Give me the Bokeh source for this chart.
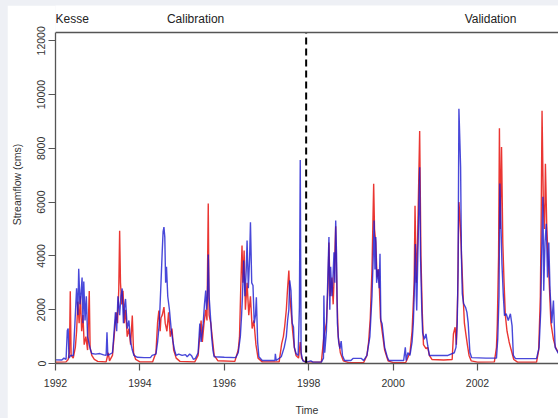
from bokeh.plotting import figure
from bokeh.models import FixedTicker, Range1d, Span
from bokeh.layouts import column
from bokeh.core.properties import value
from bokeh.embed import file_html
from bokeh.resources import INLINE

# Observed streamflow (red)
obs_t = [1992.00, 1992.25, 1992.30, 1992.33, 1992.35, 1992.37, 1992.42, 1992.47, 1992.50, 1992.53,
         1992.56, 1992.59, 1992.62, 1992.65, 1992.68, 1992.72, 1992.76, 1992.80, 1992.82, 1992.86,
         1992.92, 1993.00, 1993.20, 1993.25, 1993.28, 1993.35, 1993.40, 1993.44, 1993.47, 1993.50,
         1993.52, 1993.54, 1993.57, 1993.60, 1993.63, 1993.66, 1993.70, 1993.74, 1993.78, 1993.82,
         1993.85, 1993.90, 1994.00, 1994.30, 1994.38, 1994.42, 1994.45, 1994.48, 1994.50, 1994.53,
         1994.57, 1994.60, 1994.64, 1994.68, 1994.72, 1994.76, 1994.80, 1994.86, 1994.95, 1995.30,
         1995.38, 1995.45, 1995.48, 1995.52, 1995.56, 1995.59, 1995.62, 1995.64, 1995.68, 1995.72,
         1995.76, 1995.85, 1996.25, 1996.33, 1996.36, 1996.39, 1996.42, 1996.44, 1996.47, 1996.50,
         1996.54, 1996.58, 1996.62, 1996.66, 1996.70, 1996.75, 1996.80, 1996.90, 1997.30, 1997.36,
         1997.40, 1997.43, 1997.47, 1997.50, 1997.53, 1997.55, 1997.58, 1997.62, 1997.66, 1997.70,
         1997.76, 1997.80, 1997.83, 1997.90, 1998.30, 1998.36, 1998.42, 1998.46, 1998.48, 1998.51,
         1998.55, 1998.58, 1998.61, 1998.64, 1998.67, 1998.70, 1998.75, 1998.82, 1998.95, 1999.30,
         1999.38, 1999.42, 1999.46, 1999.50, 1999.54, 1999.56, 1999.59, 1999.62, 1999.66, 1999.70,
         1999.74, 1999.80, 1999.88, 2000.00, 2000.30, 2000.40, 2000.45, 2000.50, 2000.52, 2000.55,
         2000.58, 2000.63, 2000.66, 2000.69, 2000.72, 2000.78, 2000.82, 2000.86, 2000.92, 2001.20,
         2001.40, 2001.43, 2001.47, 2001.50, 2001.53, 2001.56, 2001.58, 2001.60, 2001.63, 2001.66,
         2001.69, 2001.72, 2001.76, 2001.80, 2001.85, 2002.00, 2002.40, 2002.45, 2002.47, 2002.50,
         2002.52, 2002.54, 2002.57, 2002.60, 2002.63, 2002.66, 2002.70, 2002.75, 2002.80, 2002.86,
         2002.95, 2003.40, 2003.45, 2003.49, 2003.51, 2003.53, 2003.56, 2003.59, 2003.61, 2003.64,
         2003.67, 2003.70, 2003.74, 2003.80, 2003.85, 2003.92]
obs_q = [50, 60, 150, 400, 2690, 300, 200, 600, 1200, 2300,
         1500, 2500, 1200, 1800, 700, 1000, 500, 2700, 600, 300,
         150, 80, 60, 400, 100, 300, 1200, 1900, 1500, 2800,
         4940, 3000, 2200, 2700, 1500, 2000, 1000, 1300, 700, 1780,
         400, 150, 60, 60, 400, 1540, 1970, 1200, 1700, 1800,
         2100, 1500, 1200, 1900, 1000, 1300, 500, 200, 80, 60,
         300, 1600, 800, 1500, 2000, 1600, 5950, 1800, 1500, 900,
         300, 100, 80, 500, 980, 2800, 4390, 3000, 4200, 2000,
         3000, 1800, 2500, 1300, 1600, 700, 200, 60, 60, 740,
         1000, 1360, 2000, 2800, 3460, 2600, 2000, 1200, 600, 300,
         200, 800, 200, 60, 50, 1000, 1500, 3000, 4500, 2500,
         3200, 2200, 3500, 5100, 2500, 1000, 400, 100, 30, 30,
         300, 800, 1700, 3500, 6680, 5000, 4500, 3200, 3500, 1700,
         1200, 500, 100, 30, 40, 400, 1200, 3000, 5870, 3000,
         4500, 8650, 4000, 2000, 700, 550, 600, 300, 150, 130,
         150, 1100, 1350, 700, 2500, 6000, 5570, 4880, 3700, 2500,
         1500, 1150, 700, 300, 100, 50, 60, 600, 1480, 4000,
         8750, 5000, 8050, 4500, 3000, 1800, 1200, 800, 500, 150,
         50, 50, 500, 2500, 5500, 9400, 6000, 5000, 7430, 5200,
         4000, 3000, 1500, 900, 600, 400]

# Simulated streamflow (blue)
sim_t = [1992.00, 1992.15, 1992.20, 1992.25, 1992.28, 1992.30, 1992.32, 1992.36, 1992.42, 1992.46,
         1992.50, 1992.53, 1992.55, 1992.58, 1992.60, 1992.63, 1992.65, 1992.67, 1992.70, 1992.73,
         1992.76, 1992.80, 1992.83, 1992.86, 1992.95, 1993.05, 1993.14, 1993.20, 1993.22, 1993.24,
         1993.35, 1993.38, 1993.42, 1993.45, 1993.48, 1993.52, 1993.55, 1993.58, 1993.61, 1993.64,
         1993.66, 1993.70, 1993.74, 1993.78, 1993.82, 1993.86, 1993.94, 1994.10, 1994.25, 1994.29,
         1994.38, 1994.42, 1994.46, 1994.50, 1994.53, 1994.55, 1994.57, 1994.59, 1994.61, 1994.63,
         1994.66, 1994.70, 1994.74, 1994.78, 1994.82, 1994.86, 1994.92, 1995.00, 1995.08, 1995.12,
         1995.18, 1995.22, 1995.27, 1995.32, 1995.38, 1995.42, 1995.45, 1995.50, 1995.53, 1995.56,
         1995.58, 1995.60, 1995.62, 1995.64, 1995.67, 1995.70, 1995.73, 1995.76, 1996.00, 1996.27,
         1996.33, 1996.38, 1996.41, 1996.43, 1996.46, 1996.49, 1996.52, 1996.54, 1996.57, 1996.60,
         1996.62, 1996.65, 1996.68, 1996.71, 1996.74, 1996.76, 1996.79, 1996.82, 1996.90, 1997.20,
         1997.21, 1997.23, 1997.35, 1997.42, 1997.47, 1997.50, 1997.53, 1997.55, 1997.58, 1997.61,
         1997.64, 1997.66, 1997.70, 1997.75, 1997.78, 1997.80, 1997.82, 1997.86, 1997.95, 1998.05,
         1998.10, 1998.30, 1998.35, 1998.36, 1998.38, 1998.42, 1998.45, 1998.48, 1998.50, 1998.52,
         1998.55, 1998.57, 1998.60, 1998.62, 1998.64, 1998.66, 1998.68, 1998.71, 1998.74, 1998.77,
         1998.80, 1998.85, 1999.00, 1999.05, 1999.25, 1999.30, 1999.38, 1999.45, 1999.50, 1999.53,
         1999.55, 1999.57, 1999.59, 1999.61, 1999.64, 1999.67, 1999.69, 1999.71, 1999.74, 1999.77,
         1999.80, 1999.86, 1999.90, 2000.25, 2000.29, 2000.31, 2000.35, 2000.40, 2000.45, 2000.48,
         2000.50, 2000.53, 2000.55, 2000.56, 2000.58, 2000.60, 2000.63, 2000.65, 2000.68, 2000.70,
         2000.74, 2000.78, 2000.82, 2000.86, 2001.00, 2001.30, 2001.45, 2001.49, 2001.52, 2001.54,
         2001.56, 2001.58, 2001.60, 2001.62, 2001.64, 2001.67, 2001.72, 2001.75, 2001.78, 2001.82,
         2001.86, 2002.20, 2002.45, 2002.48, 2002.51, 2002.53, 2002.56, 2002.58, 2002.61, 2002.64,
         2002.68, 2002.73, 2002.78, 2002.82, 2002.85, 2002.90, 2003.40, 2003.46, 2003.50, 2003.52,
         2003.55, 2003.57, 2003.60, 2003.63, 2003.66, 2003.69, 2003.72, 2003.76, 2003.80, 2003.84,
         2003.92]
sim_q = [135, 130, 200, 150, 1230, 1300, 200, 300, 300, 1500,
         2800, 1800, 3520, 2200, 2500, 3200, 1500, 3050, 1600, 2500,
         1000, 700, 500, 370, 350, 370, 320, 300, 1160, 300,
         400, 1000, 1900, 1200, 2500, 1800, 2500, 2790, 1500, 2200,
         2400, 1300, 1600, 800, 500, 300, 230, 220, 220, 300,
         350, 800, 1500, 3000, 4200, 4900, 5070, 4700, 3000, 3600,
         2500, 2000, 1300, 850, 500, 300, 350, 300, 330, 250,
         350, 300, 150, 200, 400, 1490, 800, 1500, 2200, 2710,
         2000, 2400, 4050, 2500, 1800, 1000, 500, 250, 230, 220,
         400, 1000, 1800, 2500, 3830, 2500, 3500, 4570, 2800, 3900,
         5250, 3000, 2900, 1500, 1800, 2460, 800, 250, 110, 110,
         360, 110, 250, 600, 1000, 1600, 2000, 3090, 2710, 1500,
         1360, 600, 370, 300, 2100, 7570, 400, 100, 50, 100,
         50, 50, 200, 2530, 400, 1200, 3000, 4700, 2000, 3600,
         2500, 3000, 4140, 3000, 5320, 4080, 1500, 800, 550, 830,
         300, 110, 110, 190, 190, 110, 300, 1000, 2500, 4000,
         5320, 3500, 4700, 3000, 3500, 2800, 4080, 1600, 1480, 1040,
         600, 250, 110, 110, 600, 110, 400, 300, 800, 1500,
         2500, 4440, 2500, 1970, 3500, 5000, 7300, 4000, 2000, 1150,
         900, 1100, 670, 300, 300, 300, 400, 600, 1500, 3460,
         9470, 8410, 7300, 3950, 2600, 2230, 2080, 1900, 1500, 420,
         220, 200, 200, 900, 2500, 6690, 4940, 3700, 2600, 1780,
         1850, 1600, 1850, 1400, 300, 180, 180, 600, 2000, 4000,
         6200, 2710, 4500, 5200, 3200, 4500, 2700, 1500, 2340, 600,
         370]

x_ticks = [1992, 1994, 1996, 1998, 2000, 2002]
y_ticks = [0, 2000, 4000, 6000, 8000, 10000, 12000]
split_year = 1997.94
panel_left_text = ["Kesse"]
panel_left_x = [1992.0]
panel_center_text = ["Calibration", "Validation"]
panel_center_x = [1995.32, 2002.31]

FONT = "Liberation Sans"
X_START, X_END = 1992.0, 2003.92
Y_TOP = 12310                      # top of the plot box
FRAME_H, BOX_H = 358, 331          # frame height vs. box height in pixels
Y_EXT = Y_TOP * FRAME_H / BOX_H    # range extended above box for the panel texts
LABEL_Y = Y_TOP * 345.0 / BOX_H

p = figure(width=551, height=413, output_backend="svg", toolbar_location=None,
           x_range=Range1d(X_START, X_END), y_range=Range1d(0, Y_EXT),
           min_border_left=48, min_border_right=0, min_border_top=0, min_border_bottom=55,
           margin=(5, 0, 0, 7),
           background_fill_color="white", border_fill_color="white",
           x_axis_label="Time", y_axis_label="Streamflow (cms)")
p.outline_line_color = None
p.xgrid.visible = False
p.ygrid.visible = False

p.line(obs_t, obs_q, line_color="#e8201c", line_width=1.4, line_alpha=0.9)
p.line(sim_t, sim_q, line_color="#1a1ad0", line_width=1.4, line_alpha=0.8)

# top edge of the box and the calibration/validation split
p.add_layout(Span(location=Y_TOP, dimension="width", line_color="#555555", line_width=1.3))
p.segment(x0=[split_year], y0=[0], x1=[split_year], y1=[Y_TOP], line_color="black",
          line_width=2, line_dash="7 4")

p.text(x=panel_left_x, y=[LABEL_Y], text=panel_left_text, text_align="left",
       text_baseline="middle", text_font=value(FONT), text_font_size="12px",
       text_color="#222222")
p.text(x=panel_center_x, y=[LABEL_Y] * 2, text=panel_center_text, text_align="center",
       text_baseline="middle", text_font=value(FONT), text_font_size="12px",
       text_color="#222222")

for ax in (p.xaxis[0], p.yaxis[0]):
    ax.axis_line_color = "#555555"
    ax.axis_line_width = 1.3
    ax.major_tick_line_color = "#555555"
    ax.major_tick_line_width = 1.2
    ax.major_tick_out = 7
    ax.major_tick_in = 0
    ax.minor_tick_line_color = None
    ax.major_label_text_font = FONT
    ax.major_label_text_font_size = "10.5px"
    ax.major_label_text_color = "#333333"
    ax.axis_label_text_font = FONT
    ax.axis_label_text_font_size = "10.5px"
    ax.axis_label_text_font_style = "normal"
    ax.axis_label_text_color = "#333333"

p.xaxis[0].ticker = FixedTicker(ticks=x_ticks)
p.yaxis[0].ticker = FixedTicker(ticks=y_ticks)
p.yaxis[0].bounds = (0, Y_TOP)
p.yaxis[0].major_label_orientation = "vertical"
p.xaxis[0].major_label_standoff = 8
p.xaxis[0].axis_label_standoff = 14
p.yaxis[0].major_label_standoff = 3
p.yaxis[0].axis_label_standoff = 12

layout = column(p, width=558, height=418, styles={"background-color": "#eef0f5"})
open("out.html", "w").write(file_html(layout, INLINE))
